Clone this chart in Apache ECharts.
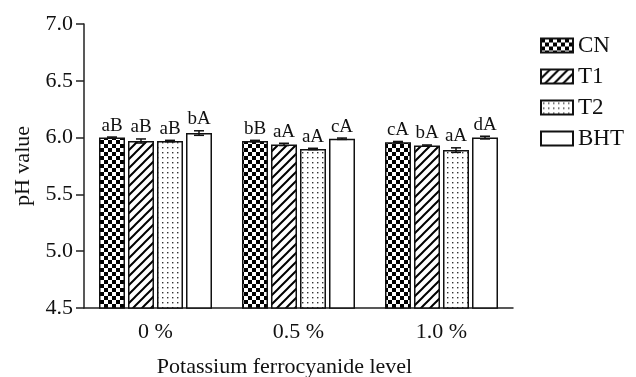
<!DOCTYPE html>
<html>
<head>
<meta charset="utf-8">
<script src="https://cdn.jsdelivr.net/npm/echarts@6/dist/echarts.min.js"></script>
<style>
  html,body{margin:0;padding:0;background:#fff;}
  #chart{width:636px;height:377px;}
</style>
</head>
<body>
<div id="chart"></div>
<script>
var categories = ['0 %', '0.5 %', '1.0 %'];
var seriesNames = ['CN', 'T1', 'T2', 'BHT'];
// pH means for each treatment at 0 %, 0.5 %, 1.0 %
var cnValues  = [6.00, 5.97, 5.96];
var t1Values  = [5.97, 5.94, 5.93];
var t2Values  = [5.97, 5.90, 5.89];
var bhtValues = [6.04, 5.99, 6.00];
// error bar half-heights
var cnErr  = [0.005, 0.006, 0.006];
var t1Err  = [0.018, 0.010, 0.005];
var t2Err  = [0.006, 0.006, 0.020];
var bhtErr = [0.020, 0.006, 0.012];
// significance letters
var cnLetters  = ['aB', 'bB', 'cA'];
var t1Letters  = ['aB', 'aA', 'bA'];
var t2Letters  = ['aB', 'aA', 'aA'];
var bhtLetters = ['bA', 'cA', 'dA'];

var allValues = [cnValues, t1Values, t2Values, bhtValues];
var allErr = [cnErr, t1Err, t2Err, bhtErr];
var allLetters = [cnLetters, t1Letters, t2Letters, bhtLetters];

var FONT = '"Liberation Serif", "Times New Roman", serif';
var BAR_W = 26, BAR_STEP = 29;

// fill patterns
function checker(){
  var c = document.createElement('canvas'); c.width = 8; c.height = 8;
  var g = c.getContext('2d');
  g.fillStyle = '#fff'; g.fillRect(0, 0, 8, 8);
  g.fillStyle = '#000'; g.fillRect(0, 0, 4, 4); g.fillRect(4, 4, 4, 4);
  return c;
}
function stripes(){
  var s = 9;
  var c = document.createElement('canvas'); c.width = s; c.height = s;
  var g = c.getContext('2d');
  g.fillStyle = '#fff'; g.fillRect(0, 0, s, s);
  g.strokeStyle = '#000'; g.lineWidth = 2;
  g.beginPath();
  g.moveTo(-1, s + 1); g.lineTo(s + 1, -1);
  g.moveTo(-2, 2); g.lineTo(2, -2);
  g.moveTo(s - 2, s + 2); g.lineTo(s + 2, s - 2);
  g.stroke();
  return c;
}
function dots(){
  var c = document.createElement('canvas'); c.width = 5; c.height = 5;
  var g = c.getContext('2d');
  g.fillStyle = '#fff'; g.fillRect(0, 0, 5, 5);
  g.fillStyle = '#333'; g.fillRect(2, 2, 1.4, 1.4);
  return c;
}
var fills = [
  {image: checker(), repeat: 'repeat'},
  {image: stripes(), repeat: 'repeat'},
  {image: dots(), repeat: 'repeat'},
  '#fff'
];

var chart = echarts.init(document.getElementById('chart'));

var series = seriesNames.map(function(name, i){
  return {
    name: name,
    type: 'bar',
    barWidth: BAR_W,
    barGap: ((BAR_STEP - BAR_W) / BAR_W * 100) + '%',
    itemStyle: {color: fills[i], borderColor: '#111', borderWidth: 1.5},
    emphasis: {disabled: true},
    data: allValues[i]
  };
});

// error bars + letters
var errData = [];
for (var s = 0; s < 4; s++) {
  for (var k = 0; k < categories.length; k++) {
    errData.push([k, s, allValues[s][k], allErr[s][k]]);
  }
}
series.push({
  type: 'custom',
  silent: true,
  z: 5,
  data: errData,
  encode: {x: 0, y: 2},
  renderItem: function(params, api){
    var k = api.value(0), s = api.value(1), v = api.value(2), e = api.value(3);
    var base = api.coord([k, v]);
    var x = base[0] + (s - 1.5) * BAR_STEP;
    var yTop = api.coord([k, v + e])[1];
    var yBot = api.coord([k, v - e])[1];
    var cap = 5;
    var st = {stroke: '#111', lineWidth: 1.5};
    return {
      type: 'group',
      children: [
        {type: 'line', shape: {x1: x, y1: yTop, x2: x, y2: yBot}, style: st},
        {type: 'line', shape: {x1: x - cap, y1: yTop, x2: x + cap, y2: yTop}, style: st},
        {type: 'line', shape: {x1: x - cap, y1: yBot, x2: x + cap, y2: yBot}, style: st},
        {type: 'text', style: {
          x: x, y: yTop - 2, text: allLetters[s][k],
          textAlign: 'center', textVerticalAlign: 'bottom',
          font: '19px ' + FONT, fill: '#111'
        }}
      ]
    };
  }
});

chart.setOption({
  animation: false,
  backgroundColor: '#fff',
  grid: {left: 84, right: 123, top: 24, bottom: 69, outerBoundsMode: 'none', containLabel: false},
  legend: {
    data: seriesNames,
    orient: 'vertical',
    left: 535,
    top: 29,
    itemWidth: 32,
    itemHeight: 14,
    itemGap: 8,
    icon: 'rect',
    selectedMode: false,
    textStyle: {fontFamily: FONT, fontSize: 23, color: '#111'}
  },
  xAxis: {
    type: 'category',
    data: categories,
    name: 'Potassium ferrocyanide level',
    nameLocation: 'middle',
    nameGap: 48,
    nameTextStyle: {fontFamily: FONT, fontSize: 22, color: '#111', padding: [0, 28, 0, 0]},
    axisLine: {lineStyle: {color: '#222', width: 1.5}},
    axisTick: {alignWithLabel: true, length: 7, lineStyle: {color: '#222', width: 1.5}},
    axisLabel: {fontFamily: FONT, fontSize: 22, color: '#111', margin: 13}
  },
  yAxis: {
    type: 'value',
    min: 4.5,
    max: 7.0,
    interval: 0.5,
    name: 'pH value',
    nameLocation: 'middle',
    nameGap: 42,
    nameTextStyle: {fontFamily: FONT, fontSize: 22, color: '#111'},
    splitLine: {show: false},
    axisLine: {show: true, lineStyle: {color: '#222', width: 1.5}},
    axisTick: {show: true, length: 8, lineStyle: {color: '#222', width: 1.5}},
    axisLabel: {
      fontFamily: FONT, fontSize: 22, color: '#111', margin: 11,
      formatter: function(v){ return v.toFixed(1); }
    }
  },
  series: series
});
</script>
</body>
</html>
